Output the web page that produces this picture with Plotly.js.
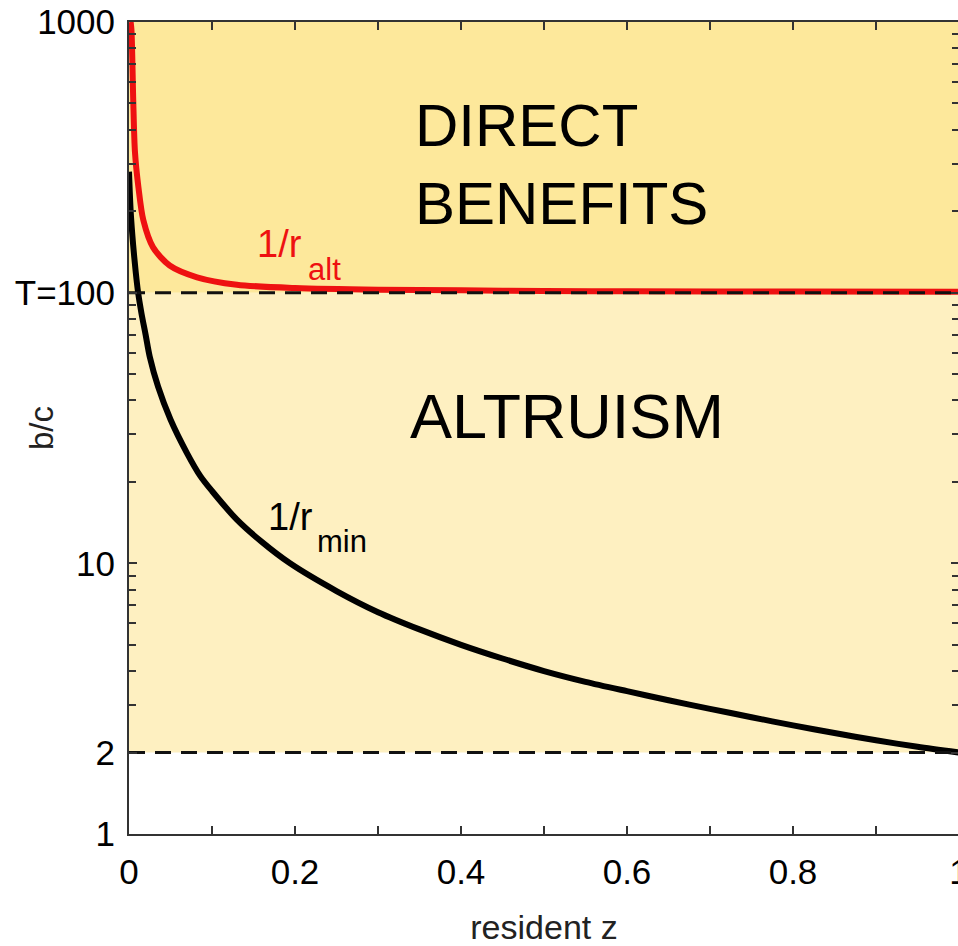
<!DOCTYPE html>
<html>
<head>
<meta charset="utf-8">
<script src="https://cdn.plot.ly/plotly-3.0.1.min.js"></script>
<style>html,body{margin:0;padding:0;background:#fff;overflow:hidden;}#chart{width:958px;height:946px;overflow:hidden;}</style>
</head>
<body>
<div id="chart"></div>
<script>
// resident trait z and the two thresholds
const zMin = [0, 0.002, 0.005, 0.008, 0.011, 0.015, 0.02, 0.025, 0.035, 0.05, 0.07, 0.086, 0.1, 0.13, 0.16, 0.194, 0.25, 0.3, 0.35, 0.4, 0.45, 0.5, 0.55, 0.6, 0.65, 0.7, 0.75, 0.8, 0.85, 0.9, 0.95, 1.0];
const invRMin = [280, 200, 150, 120, 100, 84, 70, 58, 45, 34, 25.5, 21, 18.5, 14.5, 12, 10, 7.9, 6.6, 5.7, 5.0, 4.45, 4.0, 3.65, 3.37, 3.12, 2.9, 2.7, 2.52, 2.36, 2.22, 2.1, 2.0];
const zAlt = [0.002, 0.003, 0.0052, 0.0072, 0.0113, 0.0173, 0.029, 0.049, 0.082, 0.13, 0.2, 0.3, 0.4, 0.5, 0.6, 0.8, 1.0];
const invRAlt = [1000, 930, 500, 330, 246, 185, 147, 126, 114, 107, 104, 102.5, 102, 101.5, 101.2, 100.9, 100.7];
const zEdges = [0, 1];
const T = 100;          // threshold T
const lowerBound = 2;   // lower dashed line
const topBound = 1000;
const yTickVals = [1, 2, 10, 100, 1000];
const yTickText = ['1', '2', '10', 'T=100', '1000'];
const yMinorVals = [2,3,4,5,6,7,8,9,20,30,40,50,60,70,80,90,200,300,400,500,600,700,800,900];
const xTickVals = [0, 0.2, 0.4, 0.6, 0.8, 1];
const xTickText = ['0', '0.2', '0.4', '0.6', '0.8', '1'];
const xMinorVals = [0.1, 0.3, 0.5, 0.7, 0.9];

const FONT = 'Liberation Sans, Arial, Helvetica, sans-serif';
const noLine = {width: 0};
const traces = [
  {x: zEdges, y: zEdges.map(() => lowerBound), mode: 'lines', line: noLine, hoverinfo: 'skip', showlegend: false},
  {x: zEdges, y: zEdges.map(() => T), mode: 'lines', line: noLine, fill: 'tonexty', fillcolor: '#fef0c1', hoverinfo: 'skip', showlegend: false},
  {x: zEdges, y: zEdges.map(() => T), mode: 'lines', line: noLine, hoverinfo: 'skip', showlegend: false},
  {x: zEdges, y: zEdges.map(() => topBound), mode: 'lines', line: noLine, fill: 'tonexty', fillcolor: '#fde89b', hoverinfo: 'skip', showlegend: false},
  {x: zMin, y: invRMin, mode: 'lines', line: {color: '#000000', width: 6, shape: 'spline', smoothing: 0.8}, showlegend: false},
  {x: zAlt, y: invRAlt, mode: 'lines', line: {color: '#ee1111', width: 6, shape: 'spline', smoothing: 0.8}, showlegend: false},
  {x: zEdges, y: zEdges.map(() => T), mode: 'lines', line: {color: '#111', width: 3, dash: '16px,10px'}, showlegend: false},
  {x: zEdges, y: zEdges.map(() => lowerBound), mode: 'lines', line: {color: '#111', width: 3, dash: '16px,10px'}, showlegend: false}
];

const layout = {
  width: 959, height: 946,
  margin: {l: 129, r: 0, t: 22, b: 112},
  paper_bgcolor: '#ffffff', plot_bgcolor: '#ffffff',
  font: {family: FONT, color: '#000'},
  showlegend: false,
  xaxis: {
    range: [0, 1], tickmode: 'array', tickvals: xTickVals, ticktext: xTickText,
    ticks: 'inside', ticklen: 8, tickwidth: 2, tickcolor: '#333',
    showline: true, linecolor: '#333', linewidth: 2, mirror: 'ticks',
    showgrid: false, zeroline: false,
    tickfont: {size: 35, family: FONT, color: '#000'},
    ticklabelstandoff: 6, ticklabeloverflow: 'allow',
    minor: {tickmode: 'array', tickvals: xMinorVals, ticks: 'inside', ticklen: 8, tickwidth: 2, tickcolor: '#333', showgrid: false},
    title: {text: 'resident z', font: {size: 34, family: FONT, color: '#222'}, standoff: 40}
  },
  yaxis: {
    type: 'log', range: [0, 3], tickmode: 'array', tickvals: yTickVals, ticktext: yTickText,
    ticks: 'inside', ticklen: 8, tickwidth: 2, tickcolor: '#333',
    showline: true, linecolor: '#333', linewidth: 2, mirror: 'ticks',
    showgrid: false, zeroline: false,
    tickfont: {size: 35, family: FONT, color: '#000'},
    ticklabelstandoff: 5, ticklabeloverflow: 'allow',
    minor: {tickmode: 'array', tickvals: yMinorVals, ticks: 'inside', ticklen: 7, tickwidth: 2, tickcolor: '#333', showgrid: false}
  },
  annotations: [
    {text: 'DIRECT<br>BENEFITS', x: 0.342, y: 2.472, xref: 'x', yref: 'y', xanchor: 'left', yanchor: 'middle', align: 'left', showarrow: false, font: {size: 60, family: FONT, color: '#000'}},
    {text: 'ALTRUISM', x: 0.336, y: 1.544, xref: 'x', yref: 'y', xanchor: 'left', yanchor: 'middle', showarrow: false, font: {size: 63, family: FONT, color: '#000'}},
    {text: '1/r', x: 0.152, y: 2.18, xref: 'x', yref: 'y', xanchor: 'left', yanchor: 'middle', showarrow: false, font: {size: 38, family: FONT, color: '#ee1111'}},
    {text: 'alt', x: 0.213, y: 2.086, xref: 'x', yref: 'y', xanchor: 'left', yanchor: 'middle', showarrow: false, font: {size: 31, family: FONT, color: '#ee1111'}},
    {text: '1/r', x: 0.165, y: 1.171, xref: 'x', yref: 'y', xanchor: 'left', yanchor: 'middle', showarrow: false, font: {size: 38, family: FONT, color: '#000'}},
    {text: 'min', x: 0.224, y: 1.0807, xref: 'x', yref: 'y', xanchor: 'left', yanchor: 'middle', showarrow: false, font: {size: 31, family: FONT, color: '#000'}},
    {text: 'b/c', x: (41 - 129) / 830, y: 0.5, xref: 'paper', yref: 'paper', xanchor: 'center', showarrow: false, textangle: -90, font: {size: 33, family: FONT, color: '#222'}}
  ]
};

Plotly.newPlot('chart', traces, layout, {displayModeBar: false, staticPlot: true});
</script>
</body>
</html>
